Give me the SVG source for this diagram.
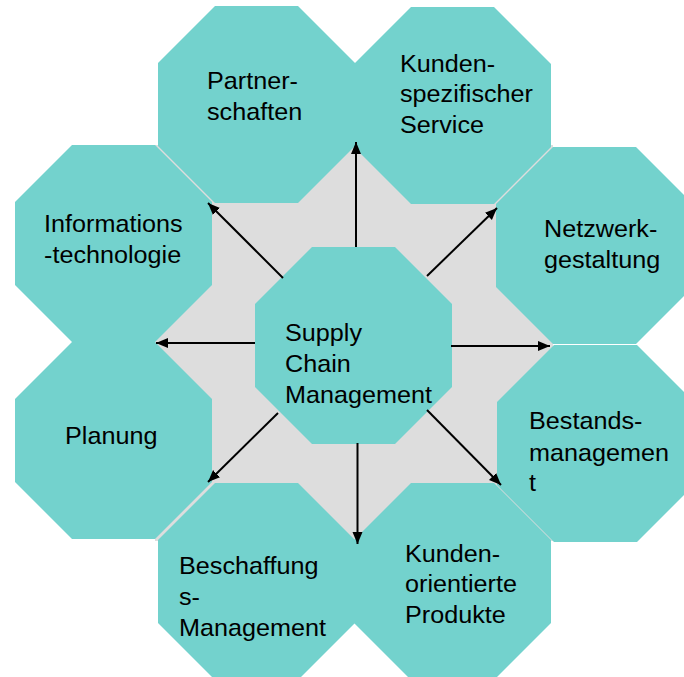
<svg xmlns="http://www.w3.org/2000/svg" width="684" height="677" viewBox="0 0 684 677">
  <style>
    .oct { fill: #73D2CD; }
    .lbl { font-family: "Liberation Sans", Arial, sans-serif; font-size: 24px; fill: #000; }
    .conn { stroke: #000; stroke-width: 2; fill: none; marker-end: url(#head); }
  </style>
  <defs>
    <polygon id="octagon" class="oct" points="57,0 140,0 197,57 197,140 140,197 57,197 0,140 0,57"/>
    <marker id="head" markerUnits="userSpaceOnUse" markerWidth="13" markerHeight="11" refX="12" refY="5" orient="auto">
      <path d="M0,0 L12,5 L0,10 Z" fill="#000"/>
    </marker>
  </defs>

  <!-- grey backdrop behind the ring -->
  <rect x="155" y="145" width="398" height="396" fill="#DDDDDD"/>

  <!-- labels are set slightly wide: translate to the first baseline, then stretch x -->
  <g id="partnerschaften">
    <use href="#octagon" x="158" y="6"/>
    <text class="lbl" transform="translate(207 89) scale(1.05 1)"><tspan x="0" y="0">Partner-</tspan><tspan x="0" y="31">schaften</tspan></text>
  </g>
  <g id="kundenspezifischer-service">
    <use href="#octagon" x="354" y="7"/>
    <text class="lbl" transform="translate(400 72) scale(1.05 1)"><tspan x="0" y="0">Kunden-</tspan><tspan x="0" y="30">spezifischer</tspan><tspan x="0" y="61">Service</tspan></text>
  </g>
  <g id="informationstechnologie">
    <use href="#octagon" x="15" y="145"/>
    <text class="lbl" transform="translate(44 232) scale(1.05 1)"><tspan x="0" y="0">Informations</tspan><tspan x="0" y="31">-technologie</tspan></text>
  </g>
  <g id="netzwerkgestaltung">
    <use href="#octagon" x="496" y="147"/>
    <text class="lbl" transform="translate(544 237) scale(1.05 1)"><tspan x="0" y="0">Netzwerk-</tspan><tspan x="0" y="31">gestaltung</tspan></text>
  </g>
  <g id="planung">
    <use href="#octagon" x="15" y="342"/>
    <text class="lbl" transform="translate(65 444) scale(1.05 1)" x="0" y="0">Planung</text>
  </g>
  <g id="bestandsmanagement">
    <use href="#octagon" x="497" y="345"/>
    <text class="lbl" transform="translate(529 429) scale(1.05 1)"><tspan x="0" y="0">Bestands-</tspan><tspan x="0" y="32">managemen</tspan><tspan x="0" y="62">t</tspan></text>
  </g>
  <g id="beschaffungsmanagement">
    <use href="#octagon" x="158" y="483"/>
    <text class="lbl" transform="translate(179 574) scale(1.05 1)"><tspan x="0" y="0">Beschaffung</tspan><tspan x="0" y="31">s-</tspan><tspan x="0" y="62">Management</tspan></text>
  </g>
  <g id="kundenorientierte-produkte">
    <use href="#octagon" x="354" y="483"/>
    <text class="lbl" transform="translate(405 562) scale(1.05 1)"><tspan x="0" y="0">Kunden-</tspan><tspan x="0" y="30">orientierte</tspan><tspan x="0" y="61">Produkte</tspan></text>
  </g>
  <g id="supply-chain-management">
    <use href="#octagon" x="255" y="247"/>
    <text class="lbl" transform="translate(285 341) scale(1.05 1)"><tspan x="0" y="0">Supply</tspan><tspan x="0" y="31">Chain</tspan><tspan x="0" y="62">Management</tspan></text>
  </g>

  <g id="connectors">
    <line class="conn" x1="356" y1="247" x2="356" y2="142"/>
    <line class="conn" x1="283" y1="278" x2="208" y2="203"/>
    <line class="conn" x1="427" y1="276" x2="497" y2="208"/>
    <line class="conn" x1="255" y1="343" x2="156" y2="343"/>
    <line class="conn" x1="451" y1="346" x2="550" y2="346"/>
    <line class="conn" x1="278" y1="413" x2="208" y2="482"/>
    <line class="conn" x1="357.5" y1="443" x2="357.5" y2="544"/>
    <line class="conn" x1="427" y1="410" x2="501" y2="485"/>
  </g>
</svg>
